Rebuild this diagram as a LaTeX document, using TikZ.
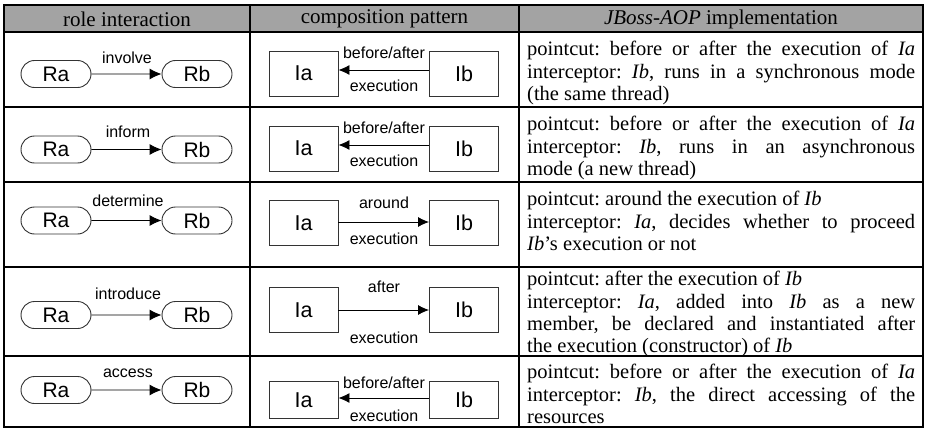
\documentclass[tikz,border=0pt]{standalone}
\usepackage{fontspec}
\setmainfont{Liberation Serif}
\setsansfont{Liberation Sans}
\usetikzlibrary{shapes.misc,arrows.meta}
\begin{document}
\frenchspacing
\begin{tikzpicture}[x=1pt,y=-1pt,
  rolebox/.style={draw=black!80,line width=0.9pt,rounded rectangle,minimum width=70pt,minimum height=27pt,inner sep=0pt,font=\sffamily\fontsize{21}{21}\selectfont},
  ibox/.style={draw=black!80,line width=0.9pt,rectangle,minimum width=69pt,minimum height=45pt,inner sep=0pt,font=\sffamily\fontsize{21.5}{21.5}\selectfont},
  lbl/.style={font=\sffamily\fontsize{16}{16}\selectfont,inner sep=0pt},
  conn/.style={line width=0.9pt,-{Latex[length=12pt,width=11pt]}},
  cconn/.style={line width=0.9pt,-{Latex[length=11pt,width=10pt]}},
  gridline/.style={line width=2pt},
  hdr/.style={font=\fontsize{21}{21}\selectfont,inner sep=0pt},
  body/.style={anchor=north west,text width=388pt,align=justify,inner sep=0pt,font=\fontsize{20.5}{22.4}\selectfont}
]
\useasboundingbox (0,0) rectangle (926,428);
% header
\fill[black!36] (4,5) rectangle (923,32);
\node[hdr] (h1) at (127,19) {role interaction};
\node[hdr] (h2) at (384.5,19) {composition pattern};
\node[hdr] (h3) at (721,19) {\textit{JBoss-AOP} implementation};
% grid
\draw[gridline] (4,5) rectangle (923,427);
\draw[gridline] (4,32) -- (923,32);
\draw[gridline] (4,107) -- (923,107);
\draw[gridline] (4,182) -- (923,182);
\draw[gridline] (4,267) -- (923,267);
\draw[gridline] (4,356) -- (923,356);
\draw[gridline] (250,5) -- (250,427);
\draw[gridline] (519,5) -- (519,427);

% ---------- row 1
\node[rolebox] (ra1) at (56,74) {Ra};
\node[rolebox] (rb1) at (197,74) {Rb};
\draw[conn] (ra1) -- (rb1);
\node[lbl] (l1) at (127,58) {involve};
\node[ibox] (ia1) at (303.5,73.5) {Ia};
\node[ibox] (ib1) at (464,73.5) {Ib};
\draw[cconn] (ib1.west |- 0,70) -- (ia1.east |- 0,70);
\node[lbl] (t1) at (384,53) {before/after};
\node[lbl] (e1) at (384,86) {execution};
\node[body] (x1) at (527,41) {pointcut: before or after the execution of \textit{Ia}\linebreak interceptor: \textit{Ib}, runs in a synchronous mode\linebreak (the same thread)};

% ---------- row 2
\node[rolebox] (ra2) at (56,149.5) {Ra};
\node[rolebox] (rb2) at (197,149.5) {Rb};
\draw[conn] (ra2) -- (rb2);
\node[lbl] (l2) at (128,132) {inform};
\node[ibox] (ia2) at (303.5,148.5) {Ia};
\node[ibox] (ib2) at (464,148.5) {Ib};
\draw[cconn] (ib2.west |- 0,145) -- (ia2.east |- 0,145);
\node[lbl] (t2) at (384,128) {before/after};
\node[lbl] (e2) at (384,161) {execution};
\node[body] (x2) at (527,116) {pointcut: before or after the execution of \textit{Ia}\linebreak interceptor: \textit{Ib}, runs in an asynchronous\linebreak mode (a new thread)};

% ---------- row 3
\node[rolebox] (ra3) at (56,220.5) {Ra};
\node[rolebox] (rb3) at (197,220.5) {Rb};
\draw[conn] (ra3) -- (rb3);
\node[lbl] (l3) at (128,201) {determine};
\node[ibox] (ia3) at (303.5,223) {Ia};
\node[ibox] (ib3) at (464,223) {Ib};
\draw[cconn] (ia3.east |- 0,222) -- (ib3.west |- 0,222);
\node[lbl] (t3) at (384,203) {around};
\node[lbl] (e3) at (384,239) {execution};
\node[body] (x3) at (527,191) {pointcut: around the execution of \textit{Ib}\\ interceptor: \textit{Ia}, decides whether to proceed\linebreak \textit{Ib}'s execution or not};

% ---------- row 4
\node[rolebox] (ra4) at (56,315) {Ra};
\node[rolebox] (rb4) at (197,315) {Rb};
\draw[conn] (ra4) -- (rb4);
\node[lbl] (l4) at (128,294) {introduce};
\node[ibox] (ia4) at (303.5,310) {Ia};
\node[ibox] (ib4) at (464,310) {Ib};
\draw[cconn] (ia4.east |- 0,310) -- (ib4.west |- 0,310);
\node[lbl] (t4) at (384,287) {after};
\node[lbl] (e4) at (384,338) {execution};
\node[body] (x4) at (527,271) {pointcut: after the execution of \textit{Ib}\\ interceptor: \textit{Ia}, added into \textit{Ib} as a new\linebreak member, be declared and instantiated after\linebreak the execution (constructor) of \textit{Ib}};

% ---------- row 5
\node[rolebox] (ra5) at (56,390) {Ra};
\node[rolebox] (rb5) at (197,390) {Rb};
\draw[conn] (ra5) -- (rb5);
\node[lbl] (l5) at (128,373) {access};
\node[ibox,minimum height=37pt] (ia5) at (303.5,400) {Ia};
\node[ibox,minimum height=37pt] (ib5) at (464,400) {Ib};
\draw[cconn] (ib5.west |- 0,398) -- (ia5.east |- 0,398);
\node[lbl] (t5) at (384,383) {before/after};
\node[lbl] (e5) at (384,416) {execution};
\node[body] (x5) at (527,364) {pointcut: before or after the execution of \textit{Ia}\linebreak interceptor: \textit{Ib}, the direct accessing of the\linebreak resources};
\end{tikzpicture}
\end{document}
